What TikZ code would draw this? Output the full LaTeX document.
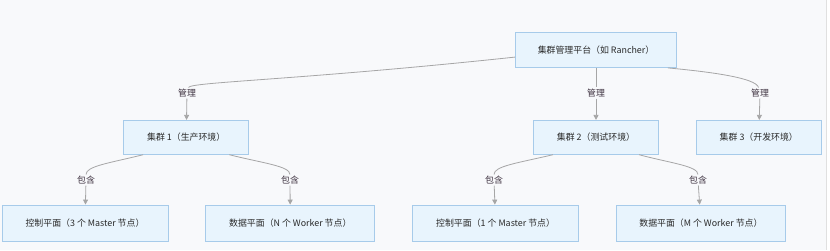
\documentclass[tikz,border=0pt]{standalone}
\usepackage{fontspec}
\setmainfont{Noto Sans CJK SC}
\usepackage{tikz}
\usetikzlibrary{arrows.meta,positioning}
\definecolor{cbg}{HTML}{F8F9FB}
\definecolor{cbox}{HTML}{E8F4FD}
\definecolor{cbord}{HTML}{A7CBEA}
\definecolor{cedge}{HTML}{A6A6A6}
\definecolor{ctext}{HTML}{2A2A2A}
\definecolor{clbl}{HTML}{3E3240}

\begin{document}
\begin{tikzpicture}[
  x=1pt,y=-1pt,
  font=\fontsize{8.9}{10}\selectfont,
  box/.style={draw=cbord,fill=cbox,line width=0.8pt,text=ctext,
              minimum height=34pt,inner sep=2pt,align=center},
  clus/.style={box,minimum width=125pt},
  part/.style={box,minimum height=36pt},
  lbl/.style={fill=cbg,text=clbl,inner sep=1.2pt},
  arr/.style={-{Triangle[length=5pt,width=5pt]},line width=0.8pt,cedge}]
  \useasboundingbox (0,0) rectangle (830,250);
  \fill[cbg] (0,0) rectangle (826,250);
  \draw[cedge!35,line width=0.6pt] (826,0) -- (826,250);
  % platform and clusters
  \node[box,minimum width=161pt,minimum height=35pt] (plat) at (596,50) {集群管理平台（如 Rancher）};
  \node[clus,below=52pt of plat] (c2) {集群 2（测试环境）};
  \node[clus,left=284pt of c2] (c1) {集群 1（生产环境）};
  \node[clus,right=37pt of c2] (c3) {集群 3（开发环境）};
  % planes
  \node[part,minimum width=166pt] (b1) at (85,223) {控制平面（3 个 Master 节点）};
  \node[part,minimum width=169pt,right=37pt of b1] (b2) {数据平面（N 个 Worker 节点）};
  \node[part,minimum width=166pt,right=37pt of b2] (b3) {控制平面（1 个 Master 节点）};
  \node[part,minimum width=169pt,right=37pt of b3] (b4) {数据平面（M 个 Worker 节点）};
  % edge labels
  \node[lbl] (m1) at (187,93) {管理};
  \node[lbl] (m2) at (596,93) {管理};
  \node[lbl] (m3) at (760,93) {管理};
  \node[lbl] (k1) at (86,180) {包含};
  \node[lbl] (k2) at (290,180) {包含};
  \node[lbl] (k3) at (494,180) {包含};
  \node[lbl] (k4) at (698,180) {包含};
  % manage
  \draw[arr] (plat.185) .. controls (300,80) and (190,82) .. (m1) -- (c1);
  \draw[arr] (plat) -- (m2) -- (c2);
  \draw[arr] (plat.-14) .. controls (712,72) and (756,78) .. (m3) -- (c3);
  % contain
  \draw[arr] (c1.202) .. controls (110,163) and (86,166) .. (k1) -- (b1);
  \draw[arr] (c1.-22) .. controls (262,163) and (290,166) .. (k2) -- (b2);
  \draw[arr] (c2.202) .. controls (518,163) and (494,166) .. (k3) -- (b3);
  \draw[arr] (c2.-22) .. controls (670,163) and (698,166) .. (k4) -- (b4);
\end{tikzpicture}
\end{document}
